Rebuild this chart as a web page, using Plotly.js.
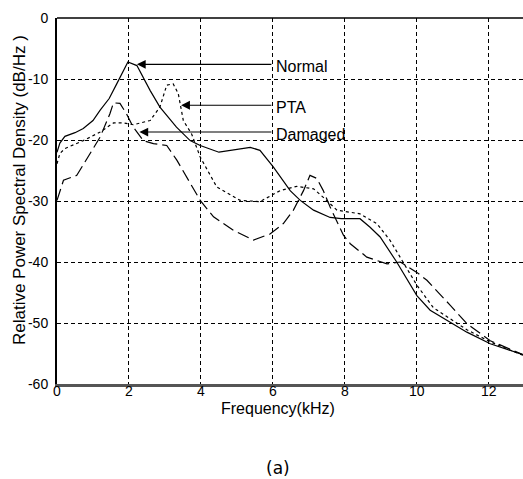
<!DOCTYPE html>
<html>
<head>
<meta charset="utf-8">
<script src="https://cdn.plot.ly/plotly-3.0.1.min.js"></script>
<style>html,body{margin:0;padding:0;background:#fff;}#chart{width:523px;height:479px;}</style>
</head>
<body>
<div id="chart"></div>
<script>
// Frequency (kHz) and relative PSD (dB/Hz)
const normalX = [0, 0.08, 0.22, 0.5, 0.73, 1.0, 1.2, 1.45, 1.66, 1.85, 1.97, 2.22, 2.59, 2.86, 3.32, 3.7, 3.98, 4.5, 5.0, 5.37, 5.64, 6.01, 6.48, 6.76, 7.13, 7.59, 7.9, 8.42, 8.7, 8.98, 9.44, 10.0, 10.37, 10.93, 11.39, 12.04, 12.5, 12.95];
const normalY = [-22, -20.5, -19.4, -18.8, -18.1, -16.8, -15.1, -13.2, -10.8, -8.6, -7.2, -7.8, -11.9, -14.6, -17.9, -20.1, -20.9, -22, -21.5, -21.2, -21.7, -24.4, -28.3, -29.9, -31.5, -32.7, -32.9, -32.9, -34.3, -35.9, -40, -45.5, -47.9, -49.9, -51.5, -53.4, -54.3, -55.2];

const ptaX = [0, 0.08, 0.22, 0.73, 1.2, 1.57, 1.84, 2.12, 2.59, 2.86, 3.05, 3.23, 3.37, 3.51, 3.74, 3.98, 4.44, 5.09, 5.64, 6.2, 6.66, 7.13, 7.4, 7.78, 8.42, 8.89, 9.26, 9.54, 10.0, 10.46, 10.93, 11.39, 12.04, 12.5, 12.95];
const ptaY = [-23.9, -22.2, -21.4, -20.1, -18.7, -17.2, -17.2, -17.5, -16.8, -14.6, -11, -10.8, -12.4, -16.8, -19, -22.8, -27.7, -29.9, -30.1, -28.3, -27.6, -28, -29.4, -31.5, -32.1, -33.7, -36.5, -39.2, -43.8, -47.5, -49.3, -51.1, -53.1, -54.2, -55.3];

const damagedX = [0, 0.18, 0.55, 0.92, 1.2, 1.47, 1.57, 1.75, 1.93, 2.12, 2.4, 2.68, 3.05, 3.33, 3.6, 3.98, 4.35, 4.9, 5.46, 5.92, 6.29, 6.57, 6.85, 7.03, 7.22, 7.4, 7.59, 7.96, 8.15, 8.61, 9.17, 9.54, 10.0, 10.28, 10.93, 11.39, 12.04, 12.5, 12.95];
const damagedY = [-29.9, -26.6, -25.8, -22.2, -19.5, -15.7, -13.9, -14, -15.7, -17.9, -20.1, -20.6, -20.9, -23.3, -26.1, -29.9, -32.6, -34.8, -36.4, -35.4, -33.7, -31.5, -28.3, -25.8, -26.3, -28.3, -31, -35.6, -37, -39.2, -40.3, -40, -41.7, -43, -47.1, -50.1, -52.9, -54, -55.2];

const labelNames = ["Normal", "PTA", "Damaged"];
const arrowTipX = [2.22, 3.45, 2.29];
const arrowY = [-7.6, -14.3, -18.7];
const arrowTailX = 6.0;

const xTicks = [0, 2, 4, 6, 8, 10, 12];
const yTicks = [-60, -50, -40, -30, -20, -10, 0];

const FONT = "'Liberation Sans', Arial, sans-serif";

const traces = [
  {x: normalX, y: normalY, mode: 'lines', name: 'Normal', line: {color: '#000', width: 1.2}},
  {x: ptaX, y: ptaY, mode: 'lines', name: 'PTA', line: {color: '#000', width: 1.2, dash: '3px,3px'}},
  {x: damagedX, y: damagedY, mode: 'lines', name: 'Damaged', line: {color: '#000', width: 1.2, dash: '12px,5px'}}
];

const annotations = [];
for (let i = 0; i < labelNames.length; i++) {
  annotations.push({
    x: arrowTipX[i], y: arrowY[i], xref: 'x', yref: 'y',
    ax: arrowTailX, ay: arrowY[i], axref: 'x', ayref: 'y',
    text: '', showarrow: true, arrowhead: 2, arrowsize: 1.6, arrowwidth: 1.1, arrowcolor: '#000', standoff: 0
  });
  annotations.push({
    x: arrowTailX, y: arrowY[i], xref: 'x', yref: 'y', xanchor: 'left', yanchor: 'middle',
    xshift: 1, yshift: -2,
    text: labelNames[i], showarrow: false, font: {family: FONT, size: 16, color: '#000'}
  });
}
annotations.push({
  x: -0.0815, y: 0.53, xref: 'paper', yref: 'paper', xanchor: 'center', yanchor: 'middle',
  text: 'Relative Power Spectral Density (dB/Hz )', textangle: -90, showarrow: false,
  font: {family: FONT, size: 17, color: '#000'}
});
annotations.push({
  x: 0.474, y: -0.2295, xref: 'paper', yref: 'paper', xanchor: 'center', yanchor: 'middle',
  text: '(a)', showarrow: false, font: {family: "'DejaVu Sans', sans-serif", size: 17, color: '#000'}
});
annotations.push({
  x: 0.474, y: -0.066, xref: 'paper', yref: 'paper', xanchor: 'center', yanchor: 'middle',
  text: 'Frequency(kHz)', showarrow: false, font: {family: FONT, size: 16, color: '#000'}
});

const layout = {
  width: 523, height: 479,
  margin: {l: 57, r: 0, t: 18, b: 95, pad: 0},
  paper_bgcolor: '#fff', plot_bgcolor: '#fff',
  showlegend: false,
  font: {family: FONT, size: 14, color: '#000'},
  xaxis: {
    range: [0, 12.95], tickvals: xTicks, ticktext: xTicks.map(String),
    showgrid: true, gridcolor: '#000', gridwidth: 1, griddash: '4px,3px',
    zeroline: false, showline: true, linecolor: '#555', linewidth: 2.5,
    ticks: '', ticklabelstandoff: -7,
    tickfont: {family: FONT, size: 14, color: '#000'}
  },
  yaxis: {
    range: [-60, 0], tickvals: yTicks, ticktext: yTicks.map(String),
    showgrid: true, gridcolor: '#000', gridwidth: 1, griddash: '4px,3px',
    zeroline: false, showline: true, linecolor: '#000', linewidth: 2,
    ticks: '', ticklabelstandoff: 4,
    tickfont: {family: FONT, size: 14, color: '#000'}
  },
  shapes: [
    {type: 'line', xref: 'paper', yref: 'paper', x0: 0, x1: 1, y0: 1, y1: 1, line: {color: '#000', width: 1.5}}
  ],
  annotations: annotations
};

Plotly.newPlot('chart', traces, layout, {displayModeBar: false, staticPlot: true});
</script>
</body>
</html>
